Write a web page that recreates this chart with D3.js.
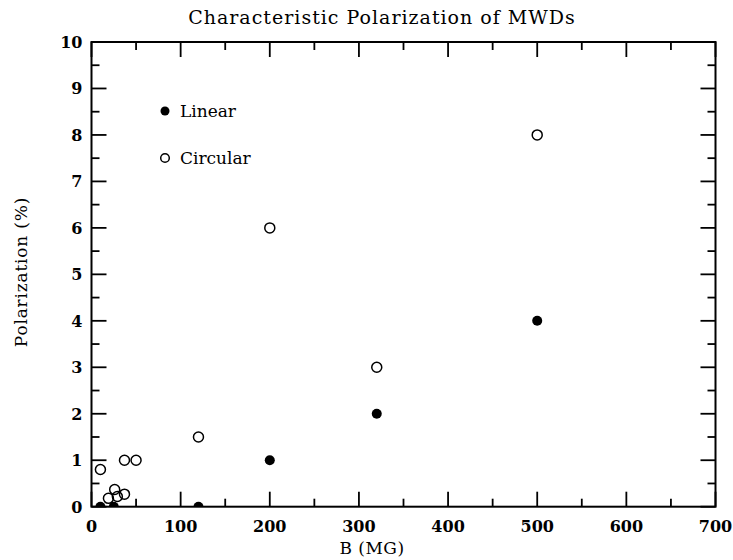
<!DOCTYPE html>
<meta charset="utf-8">
<style>
body { margin: 0; background: #fff; }
text { font-family: "DejaVu Serif", serif; fill: #000; }
.tick-label { font-size: 16px; font-weight: bold; }
</style>
<body>
<svg width="733" height="560"></svg>
<script src="https://d3js.org/d3.v7.min.js"></script>
<script>

// data
var linearB   = [10, 25, 120, 200, 320, 500]
var linearPol = [0, 0, 0, 1, 2, 4]
var circB     = [10, 19, 26, 29, 37, 37, 50, 120, 200, 320, 500]
var circPol   = [0.8, 0.18, 0.37, 0.22, 0.27, 1.0, 1.0, 1.5, 6, 3, 8]
var xTicks = [0, 100, 200, 300, 400, 500, 600, 700]
var yTicks = [0, 1, 2, 3, 4, 5, 6, 7, 8, 9, 10]

var svg = d3.select("svg")
var pLeft = 91.5, pRight = 715.5, pTop = 42, pBottom = 506.7

var x = d3.scaleLinear().domain([0, 700]).range([pLeft, pRight])
var y = d3.scaleLinear().domain([0, 10]).range([pBottom, pTop])

// frame
svg.append("rect")
    .attr("x", pLeft).attr("y", pTop)
    .attr("width", pRight - pLeft).attr("height", pBottom - pTop)
    .attr("fill", "none").attr("stroke", "#000").attr("stroke-width", 2)

var g = svg.append("g").attr("stroke", "#000").attr("stroke-width", 1.8)

// x ticks, bottom and top, pointing inward
d3.range(0, 701, 50).forEach(v => {
  var len = v % 100 == 0 ? 15 : 8
  g.append("line").attr("x1", x(v)).attr("x2", x(v)).attr("y1", pBottom).attr("y2", pBottom - len)
  g.append("line").attr("x1", x(v)).attr("x2", x(v)).attr("y1", pTop).attr("y2", pTop + len)
})
// y ticks, left and right
d3.range(0, 10.01, 0.5).forEach(v => {
  var len = Math.abs(v - Math.round(v)) < 1e-6 ? 15 : 8
  g.append("line").attr("y1", y(v)).attr("y2", y(v)).attr("x1", pLeft).attr("x2", pLeft + len)
  g.append("line").attr("y1", y(v)).attr("y2", y(v)).attr("x1", pRight).attr("x2", pRight - len)
})

svg.selectAll(".xl").data(xTicks).enter().append("text")
    .attr("class", "tick-label")
    .attr("x", d => x(d)).attr("y", pBottom + 25)
    .attr("text-anchor", "middle").text(d => d)

svg.selectAll(".yl").data(yTicks).enter().append("text")
    .attr("class", "tick-label")
    .attr("x", pLeft - 9).attr("y", d => y(d) + 6)
    .attr("text-anchor", "end").text(d => d)

// points
svg.append("clipPath").attr("id", "clip").append("rect")
    .attr("x", pLeft).attr("y", pTop).attr("width", pRight - pLeft).attr("height", pBottom - pTop)
var pts = svg.append("g").attr("clip-path", "url(#clip)")

pts.selectAll(".lin").data(linearB).enter().append("circle")
    .attr("cx", d => x(d)).attr("cy", (d, i) => y(linearPol[i]))
    .attr("r", 5).attr("fill", "#000")

pts.selectAll(".circ").data(circB).enter().append("circle")
    .attr("cx", d => x(d)).attr("cy", (d, i) => y(circPol[i]))
    .attr("r", 5).attr("fill", "none").attr("stroke", "#000").attr("stroke-width", 1.5)

// legend
svg.append("circle").attr("cx", 165).attr("cy", 111).attr("r", 4.5).attr("fill", "#000")
svg.append("text").attr("x", 180).attr("y", 117).attr("font-size", 17).text("Linear")
svg.append("circle").attr("cx", 165).attr("cy", 158).attr("r", 4.3)
    .attr("fill", "none").attr("stroke", "#000").attr("stroke-width", 1.5)
svg.append("text").attr("x", 180).attr("y", 164).attr("font-size", 17).text("Circular")

// titles
svg.append("text").attr("x", 382).attr("y", 24).attr("text-anchor", "middle")
    .attr("font-size", 19).attr("letter-spacing", 1).text("Characteristic Polarization of MWDs")
svg.append("text").attr("x", 372).attr("y", 554).attr("text-anchor", "middle")
    .attr("font-size", 17).attr("letter-spacing", 0.5).text("B (MG)")
svg.append("text").attr("transform", "translate(27,272) rotate(-90)")
    .attr("text-anchor", "middle").attr("font-size", 17).attr("letter-spacing", 0.8).text("Polarization (%)")

</script>
</body>
